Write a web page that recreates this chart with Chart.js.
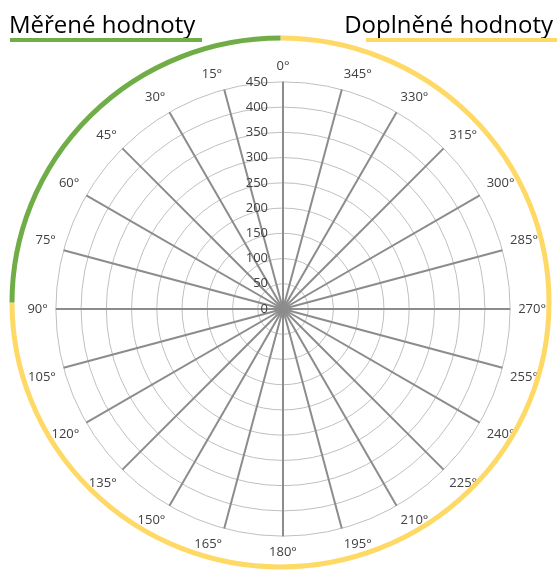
<!DOCTYPE html>
<html>
<head>
<meta charset="utf-8">
<script src="https://cdn.jsdelivr.net/npm/chart.js@4"></script>
<style>
  html, body { margin: 0; padding: 0; background: #fff; }
  #wrap { width: 557px; height: 570px; position: relative; }
</style>
</head>
<body>
<div id="wrap"><canvas id="polar"></canvas></div>
<script>
// angle labels, clockwise from the top (values grow counter-clockwise)
const angles = ['0°', '345°', '330°', '315°', '300°', '285°', '270°', '255°', '240°', '225°', '210°', '195°',
  '180°', '165°', '150°', '135°', '120°', '105°', '90°', '75°', '60°', '45°', '30°', '15°'];
const tickValues = [0, 50, 100, 150, 200, 250, 300, 350, 400, 450];
const measuredTitle = 'Měřené hodnoty';
const filledTitle = 'Doplněné hodnoty';

const green = '#70ad47';
const yellow = '#ffd966';

const decor = {
  id: 'decor',
  afterDraw(chart) {
    const c = chart.ctx;
    const r = chart.scales.r;
    // radial tick labels, left of the 0° spoke
    c.save();
    c.font = '13px "Open Sans", sans-serif';
    c.fillStyle = '#404040';
    c.textAlign = 'right';
    c.textBaseline = 'middle';
    tickValues.forEach(v => {
      const d = r.getDistanceFromCenterForValue(v);
      c.fillText(String(v), r.xCenter - 15, r.yCenter - d);
    });
    c.restore();

    // outer ring
    const cx = 280.5, cy = 302.5, rx = 268.5, ry = 264.5;
    c.save();
    c.lineWidth = 5;
    c.strokeStyle = yellow;
    c.beginPath();
    c.ellipse(cx, cy, rx, ry, 0, -Math.PI / 2, Math.PI);
    c.stroke();
    c.strokeStyle = green;
    c.beginPath();
    c.ellipse(cx, cy, rx, ry, 0, Math.PI, Math.PI * 1.5);
    c.stroke();
    c.restore();

    // titles
    c.save();
    c.font = '24px "Open Sans", sans-serif';
    c.fillStyle = '#000';
    c.textBaseline = 'alphabetic';
    c.textAlign = 'left';
    c.fillText(measuredTitle, 9, 33);
    c.fillStyle = green;
    c.fillRect(10, 38, 192, 4);
    c.fillStyle = '#000';
    c.textAlign = 'right';
    c.fillText(filledTitle, 553, 33);
    c.fillStyle = yellow;
    c.fillRect(366, 38, 191, 4);
    c.restore();
  }
};

new Chart(document.getElementById('polar'), {
  type: 'radar',
  data: {
    labels: angles,
    datasets: [{
      label: measuredTitle,
      data: [],
      pointRadius: 0,
      borderWidth: 0
    }]
  },
  options: {
    responsive: true,
    maintainAspectRatio: false,
    animation: false,
    layout: { padding: { left: 25, right: 7, top: 50, bottom: 0 } },
    plugins: { legend: { display: false }, tooltip: { enabled: false } },
    scales: {
      r: {
        min: 0,
        max: 450,
        ticks: { stepSize: 50, display: false },
        grid: { circular: true, color: '#bfbfbf', lineWidth: 1 },
        angleLines: { color: '#8c8c8c', lineWidth: 2 },
        pointLabels: {
          padding: 8,
          color: '#404040',
          font: { family: '"Open Sans", sans-serif', size: 13 }
        }
      }
    }
  },
  plugins: [decor]
});
</script>
</body>
</html>
